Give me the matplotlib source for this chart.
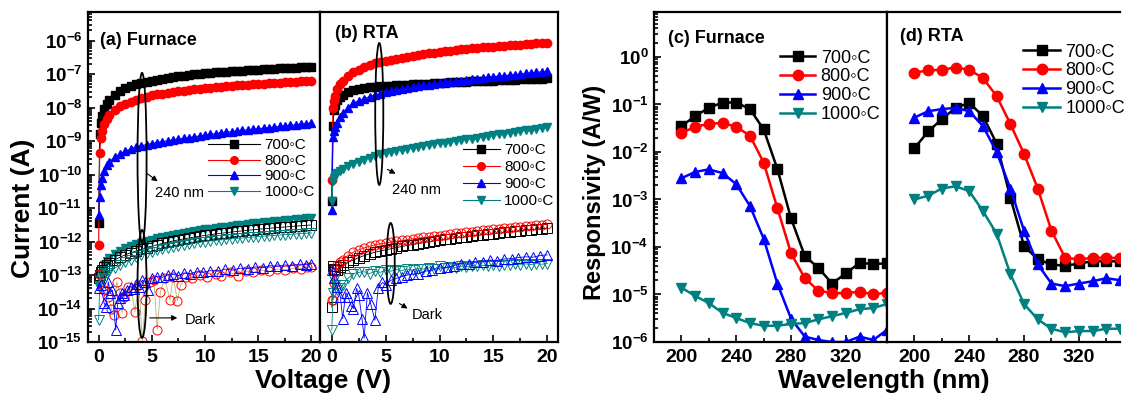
import numpy as np
import matplotlib
matplotlib.use('Agg')
import matplotlib.pyplot as plt
from matplotlib.patches import Ellipse
from matplotlib.lines import Line2D
from matplotlib.ticker import LogLocator, FuncFormatter, MultipleLocator, NullFormatter

plt.rcParams['font.family'] = ['Liberation Sans', 'DejaVu Sans']
plt.rcParams['mathtext.fontset'] = 'custom'
plt.rcParams['mathtext.bf'] = 'Liberation Sans:bold'
plt.rcParams['mathtext.rm'] = 'Liberation Sans'
plt.rcParams['mathtext.it'] = 'Liberation Sans:italic'

# ---------------- data ----------------
temps = ['700\u25e6C', '800\u25e6C', '900\u25e6C', '1000\u25e6C']
colors = ['#000000', '#ff0000', '#0000ff', '#008080']
markers = ['s', 'o', '^', 'v']

# voltage sweep used for the smooth curves
v_sweep = [0, 0.1, 0.2, 0.3, 0.5, 0.75, 1, 1.5, 2, 2.5, 3, 3.5, 4, 4.5, 5, 5.5, 6, 6.5, 7, 7.5,
           8, 8.5, 9, 9.5, 10, 10.5, 11, 11.5, 12, 12.5, 13, 13.5, 14, 14.5, 15, 15.5, 16, 16.5,
           17, 17.5, 18, 18.5, 19, 19.5, 20]

# (a) furnace, 240 nm illumination
fur_700 = [3.5e-12, 1.6e-9, 3.5e-9, 5.5e-9, 9e-9, 1.3e-8, 1.7e-8, 2.4e-8, 3.1e-8, 3.7e-8, 4.3e-8,
           4.9e-8, 5.4e-8, 5.9e-8, 6.4e-8, 6.8e-8, 7.3e-8, 7.7e-8, 8.1e-8, 8.5e-8, 8.9e-8, 9.3e-8,
           9.7e-8, 1.01e-7, 1.05e-7, 1.08e-7, 1.11e-7, 1.14e-7, 1.17e-7, 1.2e-7, 1.23e-7, 1.26e-7,
           1.29e-7, 1.32e-7, 1.35e-7, 1.38e-7, 1.41e-7, 1.44e-7, 1.47e-7, 1.5e-7, 1.53e-7, 1.56e-7,
           1.59e-7, 1.62e-7, 1.65e-7]
fur_800 = [8e-13, 4.5e-10, 1.2e-9, 2.0e-9, 3.3e-9, 4.6e-9, 6e-9, 8.5e-9, 1.1e-8, 1.3e-8, 1.5e-8,
           1.7e-8, 1.9e-8, 2.1e-8, 2.3e-8, 2.45e-8, 2.6e-8, 2.75e-8, 2.9e-8, 3.05e-8, 3.2e-8,
           3.35e-8, 3.5e-8, 3.65e-8, 3.8e-8, 3.92e-8, 4.05e-8, 4.18e-8, 4.3e-8, 4.42e-8, 4.55e-8,
           4.68e-8, 4.8e-8, 4.93e-8, 5.05e-8, 5.18e-8, 5.3e-8, 5.43e-8, 5.55e-8, 5.68e-8, 5.8e-8,
           5.93e-8, 6.05e-8, 6.18e-8, 6.3e-8]
fur_900 = [6e-12, 2.2e-11, 5e-11, 8e-11, 1.3e-10, 1.9e-10, 2.4e-10, 3.3e-10, 4.1e-10, 5e-10, 5.8e-10,
           6.6e-10, 7.2e-10, 7.8e-10, 8.4e-10, 9e-10, 9.6e-10, 1.02e-9, 1.08e-9, 1.14e-9, 1.2e-9,
           1.27e-9, 1.34e-9, 1.42e-9, 1.5e-9, 1.58e-9, 1.66e-9, 1.74e-9, 1.82e-9, 1.9e-9, 1.98e-9,
           2.06e-9, 2.15e-9, 2.24e-9, 2.33e-9, 2.42e-9, 2.52e-9, 2.62e-9, 2.72e-9, 2.82e-9, 2.93e-9,
           3.04e-9, 3.15e-9, 3.27e-9, 3.4e-9]
fur_1000 = [5e-14, 8e-14, 1.1e-13, 1.4e-13, 2e-13, 2.7e-13, 3.3e-13, 4.3e-13, 5.3e-13, 6.3e-13,
            7.3e-13, 8.3e-13, 9.3e-13, 1.03e-12, 1.13e-12, 1.24e-12, 1.35e-12, 1.46e-12, 1.57e-12,
            1.68e-12, 1.8e-12, 1.92e-12, 2.04e-12, 2.16e-12, 2.3e-12, 2.42e-12, 2.55e-12, 2.68e-12,
            2.8e-12, 2.93e-12, 3.06e-12, 3.2e-12, 3.33e-12, 3.47e-12, 3.6e-12, 3.75e-12, 3.9e-12,
            4.05e-12, 4.2e-12, 4.35e-12, 4.5e-12, 4.65e-12, 4.8e-12, 4.95e-12, 5.1e-12]

# (a) furnace, dark
fur_dark_700 = [8e-14, 1e-13, 1.2e-13, 1.4e-13, 1.7e-13, 2e-13, 2.3e-13, 2.8e-13, 3.4e-13, 4e-13,
                4.6e-13, 5.2e-13, 5.9e-13, 6.6e-13, 7.3e-13, 8e-13, 8.8e-13, 9.6e-13, 1.04e-12,
                1.12e-12, 1.2e-12, 1.28e-12, 1.36e-12, 1.44e-12, 1.52e-12, 1.6e-12, 1.68e-12,
                1.76e-12, 1.84e-12, 1.92e-12, 2.0e-12, 2.08e-12, 2.16e-12, 2.24e-12, 2.32e-12,
                2.4e-12, 2.48e-12, 2.56e-12, 2.64e-12, 2.72e-12, 2.8e-12, 2.88e-12, 2.96e-12,
                3.04e-12, 3.12e-12]
fur_dark_1000 = [4.6e-15, 4e-14, 7e-14, 8e-14, 1e-13, 1.15e-13, 1.3e-13, 1.6e-13, 2e-13, 2.4e-13,
                 2.9e-13, 3.4e-13, 3.9e-13, 4.4e-13, 4.9e-13, 5.4e-13, 5.9e-13, 6.4e-13, 6.9e-13,
                 7.4e-13, 7.9e-13, 8.4e-13, 8.9e-13, 9.4e-13, 9.9e-13, 1.04e-12, 1.08e-12,
                 1.12e-12, 1.16e-12, 1.2e-12, 1.24e-12, 1.28e-12, 1.32e-12, 1.36e-12, 1.4e-12,
                 1.44e-12, 1.48e-12, 1.52e-12, 1.56e-12, 1.6e-12, 1.64e-12, 1.68e-12, 1.72e-12,
                 1.76e-12, 1.8e-12]
v_fur_dark_800 = [0, 0.5, 0.9, 1.2, 1.4, 1.7, 2.0, 2.2, 2.4, 2.8, 3.1, 3.4, 3.8, 4.1, 4.4, 4.8, 5.2,
                  5.5, 5.8, 6.2, 6.7, 7.0, 7.4, 7.7, 8.2, 8.8, 9.5, 10.2, 11.0, 11.5, 12.3, 13.1,
                  13.8, 14.5, 15.3, 16.0, 16.8, 17.5, 18.3, 19.0, 19.6, 20.0]
fur_dark_800 = [1.1e-13, 3.5e-14, 2.2e-14, 1e-14, 6.4e-15, 6.3e-14, 3e-14, 7.4e-15, 2.2e-14, 4.5e-14,
                3.5e-14, 8e-15, 5e-14, 1.1e-15, 1.8e-14, 6e-14, 7e-14, 2.3e-15, 3.1e-14, 8e-14,
                1.8e-14, 9e-14, 1.7e-14, 5e-14, 9e-14, 8e-14, 1e-13, 8.5e-14, 1.1e-13, 9.5e-14,
                1.2e-13, 9.5e-14, 1.3e-13, 1.2e-13, 1.4e-13, 1.3e-13, 1.5e-13, 1.45e-13, 1.6e-13,
                1.55e-13, 1.7e-13, 1.7e-13]
v_fur_dark_900 = [0, 0.2, 0.5, 0.7, 0.9, 1.1, 1.3, 1.6, 1.8, 2.0, 2.2, 2.4, 2.7, 3.0, 3.3, 3.5, 3.8,
                  4.1, 4.4, 4.6, 5.0, 5.5, 6.0, 6.5, 7.0, 7.5, 8.0, 8.6, 9.2, 9.8, 10.5, 11.2, 11.9,
                  12.6, 13.3, 14.0, 14.7, 15.4, 16.1, 16.8, 17.5, 18.2, 18.9, 19.5, 20.0]
fur_dark_900 = [4e-14, 5e-14, 1.5e-14, 1.1e-14, 6.3e-14, 3e-14, 3.5e-14, 2.3e-15, 1.5e-14, 2e-14,
                3e-14, 2.5e-14, 3.5e-14, 4.5e-14, 3.8e-14, 5.5e-14, 4.5e-14, 7e-14, 6e-14, 3.5e-14,
                8e-14, 9e-14, 8.5e-14, 1e-13, 1.05e-13, 9.5e-14, 1.15e-13, 1.1e-13, 1.25e-13, 1.2e-13,
                1.35e-13, 1.3e-13, 1.5e-13, 1.4e-13, 1.6e-13, 1.55e-13, 1.75e-13, 1.65e-13, 1.9e-13,
                1.8e-13, 2e-13, 1.9e-13, 2.1e-13, 2.05e-13, 2.2e-13]

# (b) RTA, 240 nm illumination
rta_700 = [1.6e-11, 2.8e-9, 8.5e-9, 1.2e-8, 1.65e-8, 2.0e-8, 2.4e-8, 2.9e-8, 3.3e-8, 3.55e-8, 3.8e-8,
           4.0e-8, 4.15e-8, 4.3e-8, 4.4e-8, 4.5e-8, 4.6e-8, 4.7e-8, 4.8e-8, 4.9e-8, 5.0e-8, 5.1e-8,
           5.2e-8, 5.3e-8, 5.4e-8, 5.5e-8, 5.6e-8, 5.7e-8, 5.8e-8, 5.9e-8, 6.0e-8, 6.1e-8, 6.2e-8,
           6.3e-8, 6.4e-8, 6.5e-8, 6.6e-8, 6.7e-8, 6.8e-8, 6.9e-8, 7.0e-8, 7.1e-8, 7.2e-8, 7.3e-8,
           7.4e-8]
rta_800 = [7e-11, 1e-8, 1.6e-8, 2.2e-8, 3.5e-8, 5e-8, 6.4e-8, 8.8e-8, 1.15e-7, 1.35e-7, 1.6e-7,
           1.85e-7, 2.1e-7, 2.3e-7, 2.5e-7, 2.7e-7, 2.9e-7, 3.1e-7, 3.3e-7, 3.5e-7, 3.7e-7, 3.9e-7,
           4.1e-7, 4.35e-7, 4.6e-7, 4.8e-7, 5.0e-7, 5.2e-7, 5.4e-7, 5.6e-7, 5.8e-7, 6.0e-7, 6.2e-7,
           6.4e-7, 6.6e-7, 6.8e-7, 7.0e-7, 7.2e-7, 7.4e-7, 7.6e-7, 7.8e-7, 8.0e-7, 8.2e-7, 8.4e-7,
           8.6e-7]
rta_900 = [8.7e-12, 1.3e-9, 2e-9, 2.6e-9, 3.5e-9, 5.2e-9, 6.9e-9, 1.0e-8, 1.35e-8, 1.6e-8, 1.85e-8,
           2.1e-8, 2.35e-8, 2.6e-8, 2.85e-8, 3.1e-8, 3.35e-8, 3.6e-8, 3.85e-8, 4.1e-8, 4.35e-8,
           4.6e-8, 4.85e-8, 5.1e-8, 5.35e-8, 5.6e-8, 5.85e-8, 6.1e-8, 6.4e-8, 6.7e-8, 7.0e-8,
           7.3e-8, 7.6e-8, 7.9e-8, 8.2e-8, 8.55e-8, 8.9e-8, 9.25e-8, 9.6e-8, 1.0e-7, 1.04e-7,
           1.08e-7, 1.12e-7, 1.16e-7, 1.2e-7]
rta_1000 = [1.6e-11, 6.2e-11, 8e-11, 9.5e-11, 1.1e-10, 1.3e-10, 1.5e-10, 1.8e-10, 2.1e-10, 2.4e-10,
            2.8e-10, 3.2e-10, 3.6e-10, 4.0e-10, 4.3e-10, 4.7e-10, 5.1e-10, 5.5e-10, 5.9e-10, 6.3e-10,
            6.7e-10, 7.2e-10, 7.7e-10, 8.1e-10, 8.5e-10, 9.0e-10, 9.5e-10, 1.0e-9, 1.06e-9, 1.12e-9,
            1.18e-9, 1.25e-9, 1.32e-9, 1.4e-9, 1.48e-9, 1.57e-9, 1.66e-9, 1.76e-9, 1.86e-9, 1.97e-9,
            2.08e-9, 2.2e-9, 2.33e-9, 2.46e-9, 2.6e-9]

# (b) RTA, dark
rta_dark_700 = [1.1e-14, 1.8e-13, 1.5e-13, 1.4e-13, 1.4e-13, 1.7e-13, 2e-13, 2.4e-13, 2.8e-13,
                3.3e-13, 3.8e-13, 4.3e-13, 4.8e-13, 5.2e-13, 5.6e-13, 6.1e-13, 6.6e-13, 7.1e-13,
                7.6e-13, 8.1e-13, 8.6e-13, 9.2e-13, 9.8e-13, 1.04e-12, 1.1e-12, 1.16e-12, 1.22e-12,
                1.28e-12, 1.34e-12, 1.4e-12, 1.46e-12, 1.52e-12, 1.58e-12, 1.64e-12, 1.7e-12,
                1.78e-12, 1.86e-12, 1.94e-12, 2.02e-12, 2.1e-12, 2.18e-12, 2.26e-12, 2.34e-12,
                2.42e-12, 2.5e-12]
rta_dark_800 = [1.8e-14, 1.8e-14, 5.8e-14, 1.2e-13, 2e-13, 2.4e-13, 2.8e-13, 3.8e-13, 4.8e-13,
                5.6e-13, 6.4e-13, 7.2e-13, 7.9e-13, 8.5e-13, 9e-13, 9.6e-13, 1.02e-12, 1.08e-12,
                1.14e-12, 1.2e-12, 1.26e-12, 1.32e-12, 1.38e-12, 1.44e-12, 1.5e-12, 1.58e-12,
                1.66e-12, 1.74e-12, 1.82e-12, 1.9e-12, 1.98e-12, 2.06e-12, 2.14e-12, 2.22e-12,
                2.3e-12, 2.4e-12, 2.5e-12, 2.6e-12, 2.7e-12, 2.8e-12, 2.9e-12, 3.0e-12, 3.1e-12,
                3.2e-12, 3.3e-12]
rta_dark_1000 = [2.3e-15, 3e-14, 7e-14, 5e-14, 3.5e-14, 4e-14, 5e-14, 8e-14, 1.1e-13, 1.2e-13,
                 1.25e-13, 1.1e-13, 1.3e-13, 1.2e-13, 1.4e-13, 1.3e-13, 1.45e-13, 1.35e-13, 1.5e-13,
                 1.4e-13, 1.55e-13, 1.5e-13, 1.65e-13, 1.55e-13, 1.8e-13, 1.6e-13, 1.75e-13,
                 1.65e-13, 1.85e-13, 1.75e-13, 1.9e-13, 1.8e-13, 1.95e-13, 1.85e-13, 2e-13, 1.9e-13,
                 2.05e-13, 1.95e-13, 2.1e-13, 2e-13, 2.15e-13, 2.05e-13, 2.2e-13, 2.1e-13, 2.2e-13]
v_rta_dark_900 = [0, 0.2, 0.5, 0.8, 1.0, 1.3, 1.5, 1.8, 2.0, 2.3, 2.5, 2.8, 3.0, 3.3, 3.6, 4.0, 4.3,
                  4.7, 5.0, 5.5, 6.0, 6.5, 7.0, 7.5, 8.0, 8.7, 9.3, 10.0, 10.7, 11.3, 12.0, 12.7,
                  13.3, 14.0, 14.7, 15.3, 16.0, 16.7, 17.3, 18.0, 18.7, 19.3, 20.0]
rta_dark_900 = [1.4e-13, 8e-14, 4.5e-14, 2.2e-14, 5e-15, 3e-14, 2.2e-14, 1.2e-14, 1e-14, 4e-14,
                2.5e-14, 5e-15, 1.3e-15, 3e-14, 1.4e-14, 4.5e-15, 4e-14, 6e-14, 5e-14, 7e-14, 8e-14,
                9e-14, 1e-13, 1.05e-13, 1.1e-13, 1.3e-13, 1.4e-13, 1.6e-13, 1.7e-13, 1.9e-13, 2.2e-13,
                2.1e-13, 2.4e-13, 2.5e-13, 2.8e-13, 2.7e-13, 3e-13, 3.1e-13, 3.3e-13, 3.5e-13,
                3.4e-13, 3.8e-13, 4e-13]

# (c)/(d) responsivity spectra
wavelength = [200, 210, 220, 230, 240, 250, 260, 270, 280, 290, 300, 310, 320, 330, 340, 350]
resp_fur_700 = [0.035, 0.057, 0.085, 0.11, 0.11, 0.08, 0.03, 4.4e-3, 4e-4, 6.5e-5, 3.6e-5, 1.7e-5,
                2.8e-5, 4.6e-5, 4.4e-5, 4.5e-5]
resp_fur_800 = [0.025, 0.034, 0.039, 0.041, 0.034, 0.022, 6e-3, 6.6e-4, 7.4e-5, 2.2e-5, 1.2e-5,
                1.07e-5, 1.07e-5, 1.15e-5, 1.0e-5, 1.1e-5]
resp_fur_900 = [2.8e-3, 3.8e-3, 4.3e-3, 3.6e-3, 2.1e-3, 7.3e-4, 1.5e-4, 1.7e-5, 3.1e-6, 1.3e-6,
                1.1e-6, 1.0e-6, 1.0e-6, 1.3e-6, 1.1e-6, 1.8e-6]
resp_fur_1000 = [1.4e-5, 9.3e-6, 6.6e-6, 4.1e-6, 3.2e-6, 2.5e-6, 2.2e-6, 2.2e-6, 2.4e-6, 2.5e-6,
                 3.0e-6, 3.5e-6, 4.1e-6, 4.9e-6, 5.2e-6, 6.3e-6]
resp_rta_700 = [0.012, 0.027, 0.049, 0.085, 0.108, 0.057, 0.015, 1.1e-3, 1.05e-4, 5.5e-5, 4.3e-5,
                4e-5, 4.5e-5, 5e-5, 5e-5, 5e-5]
resp_rta_800 = [0.47, 0.52, 0.54, 0.6, 0.54, 0.36, 0.15, 0.039, 9.1e-3, 1.7e-3, 2.2e-4, 5.9e-5,
                5.5e-5, 5.9e-5, 5.9e-5, 5.9e-5]
resp_rta_900 = [0.053, 0.072, 0.08, 0.085, 0.072, 0.035, 0.01, 1.7e-3, 2.2e-4, 4.3e-5, 1.7e-5,
                1.5e-5, 1.7e-5, 1.9e-5, 2.2e-5, 2.0e-5]
resp_rta_1000 = [1.0e-3, 1.2e-3, 1.7e-3, 1.9e-3, 1.5e-3, 5.7e-4, 1.9e-4, 2.7e-5, 6.3e-6, 3e-6,
                 1.9e-6, 1.6e-6, 1.7e-6, 1.7e-6, 1.9e-6, 1.9e-6]


def sci_label(val, pos):
    return r'$\mathbf{10^{%d}}$' % int(round(np.log10(val)))


def style_axis(ax, ylabels=True, xmajor=5, xminor=2.5):
    ax.set_yscale('log')
    ax.yaxis.set_major_locator(LogLocator(base=10, numticks=30))
    ax.yaxis.set_minor_locator(LogLocator(base=10, subs=np.arange(2, 10), numticks=30))
    ax.yaxis.set_minor_formatter(NullFormatter())
    ax.xaxis.set_major_locator(MultipleLocator(xmajor))
    ax.xaxis.set_minor_locator(MultipleLocator(xminor))
    for s in ax.spines.values():
        s.set_linewidth(1.6)
    ax.tick_params(which='both', direction='in', top=False, right=False, width=1.2)
    ax.tick_params(which='major', length=5, labelsize=14, pad=5)
    ax.tick_params(which='minor', length=3)
    for lab in ax.get_xticklabels():
        lab.set_fontweight('bold')
    if ylabels:
        ax.yaxis.set_major_formatter(FuncFormatter(sci_label))
        ax.tick_params(axis='y', pad=4, labelsize=13.5)
    else:
        ax.tick_params(axis='y', which='both', left=False, labelleft=False)


def plot_photo(ax, v, i, k):
    ax.plot(v, i, color=colors[k], marker=markers[k], ms=6, lw=0.8, mec=colors[k])


def plot_dark(ax, v, i, k, line_color=None):
    ax.plot(v, i, color=line_color or colors[k], marker=markers[k], ms=6.5, lw=0.6,
            mfc='none', mec=colors[k], mew=0.7)


def add_legend(ax, x, y, fs, hl, ms, lw, spacing):
    handles = [Line2D([], [], color=colors[k], marker=markers[k], ms=ms, lw=lw) for k in range(4)]
    ax.legend(handles, temps, loc='upper left', bbox_to_anchor=(x, y), frameon=False,
              fontsize=fs, handlelength=hl, handletextpad=0.3, labelspacing=spacing,
              borderpad=0, borderaxespad=0)


def add_ellipse(ax, cx, cy, w, h):
    ax.add_patch(Ellipse((cx, cy), w, h, transform=ax.transAxes, fill=False,
                         ec='black', lw=1.3, zorder=5))


def add_note(ax, text, txy, start, end):
    ax.annotate('', xy=end, xytext=start, xycoords='axes fraction', textcoords='axes fraction',
                arrowprops=dict(arrowstyle='-|>', color='black', lw=0.8, mutation_scale=8))
    ax.text(txy[0], txy[1], text, transform=ax.transAxes, fontsize=10.5, va='center')


fig = plt.figure(figsize=(11.24, 3.99), dpi=100)
H = 330 / 399
B = 1 - 342 / 399
ax_a = fig.add_axes([88 / 1124, B, 232 / 1124, H])
ax_b = fig.add_axes([320 / 1124, B, 238 / 1124, H])
ax_c = fig.add_axes([654 / 1124, B, 233 / 1124, H])
ax_d = fig.add_axes([887 / 1124, B, 233 / 1124, H])

# ---- (a) furnace I-V ----
for k, data in enumerate([fur_700, fur_800, fur_900, fur_1000]):
    plot_photo(ax_a, v_sweep, data, k)
plot_dark(ax_a, v_sweep, fur_dark_700, 0)
plot_dark(ax_a, v_sweep, fur_dark_1000, 3)
plot_dark(ax_a, v_fur_dark_800, fur_dark_800, 1, line_color='#b8b274')
plot_dark(ax_a, v_fur_dark_900, fur_dark_900, 2)

# ---- (b) RTA I-V ----
for k, data in enumerate([rta_700, rta_800, rta_900, rta_1000]):
    plot_photo(ax_b, v_sweep, data, k)
plot_dark(ax_b, v_sweep, rta_dark_700, 0)
plot_dark(ax_b, v_sweep, rta_dark_800, 1)
plot_dark(ax_b, v_sweep, rta_dark_1000, 3)
plot_dark(ax_b, v_rta_dark_900, rta_dark_900, 2)

for ax in (ax_a, ax_b):
    ax.set_ylim(1e-15, 7.1e-6)
ax_a.set_xlim(-1, 20.8)
ax_b.set_xlim(-1.1, 21)
style_axis(ax_a, ylabels=True)
style_axis(ax_b, ylabels=False)

# ---- (c)/(d) responsivity ----
for ax, series in ((ax_c, [resp_fur_700, resp_fur_800, resp_fur_900, resp_fur_1000]),
                   (ax_d, [resp_rta_700, resp_rta_800, resp_rta_900, resp_rta_1000])):
    for k, data in enumerate(series):
        ax.plot(wavelength, data, color=colors[k], marker=markers[k], ms=7.5, lw=1.8)
    ax.set_xlim(180, 350)
    ax.set_ylim(1e-6, 8.85)
style_axis(ax_c, ylabels=True, xmajor=40, xminor=20)
style_axis(ax_d, ylabels=False, xmajor=40, xminor=20)
ax_d.spines['right'].set_visible(False)

# panel titles
ax_a.text(0.052, 0.915, '(a) Furnace', transform=ax_a.transAxes, fontsize=13, fontweight='bold', va='center')
ax_b.text(0.063, 0.936, '(b) RTA', transform=ax_b.transAxes, fontsize=13, fontweight='bold', va='center')
ax_c.text(0.06, 0.921, '(c) Furnace', transform=ax_c.transAxes, fontsize=13, fontweight='bold', va='center')
ax_d.text(0.056, 0.927, '(d) RTA', transform=ax_d.transAxes, fontsize=13, fontweight='bold', va='center')

# legends
add_legend(ax_a, 0.517, 0.617, 11, 3.4, 5.5, 0.8, 0.1)
add_legend(ax_b, 0.601, 0.603, 11, 2.4, 5.5, 0.8, 0.2)
add_legend(ax_c, 0.541, 0.886, 13, 1.95, 7.5, 1.8, 0.1)
add_legend(ax_d, 0.584, 0.904, 13, 2.05, 7.5, 1.8, 0.1)

# ellipses and notes
add_ellipse(ax_a, 0.233, 0.558, 0.039, 0.515)
add_ellipse(ax_a, 0.233, 0.176, 0.039, 0.327)
add_note(ax_a, '240 nm', (0.289, 0.452), (0.246, 0.515), (0.31, 0.482))
add_note(ax_a, 'Dark', (0.418, 0.067), (0.254, 0.073), (0.397, 0.073))
add_ellipse(ax_b, 0.249, 0.691, 0.034, 0.43)
add_ellipse(ax_b, 0.297, 0.238, 0.034, 0.245)
add_note(ax_b, '240 nm', (0.303, 0.461), (0.273, 0.527), (0.328, 0.506))
add_note(ax_b, 'Dark', (0.387, 0.082), (0.324, 0.121), (0.378, 0.097))

# axis titles
fig.text(23 / 1124, 1 - 208 / 399, 'Current (A)', rotation=90, fontsize=19,
         fontweight='bold', ha='center', va='center')
fig.text(323 / 1124, 1 - 381 / 399, 'Voltage (V)', fontsize=19, fontweight='bold',
         ha='center', va='center')
fig.text(594 / 1124, 1 - 192 / 399, 'Responsivity (A/W)', rotation=90, fontsize=17,
         fontweight='bold', ha='center', va='center')
fig.text(884 / 1124, 1 - 381 / 399, 'Wavelength (nm)', fontsize=19, fontweight='bold',
         ha='center', va='center')

fig.savefig('out.png', dpi=100)
